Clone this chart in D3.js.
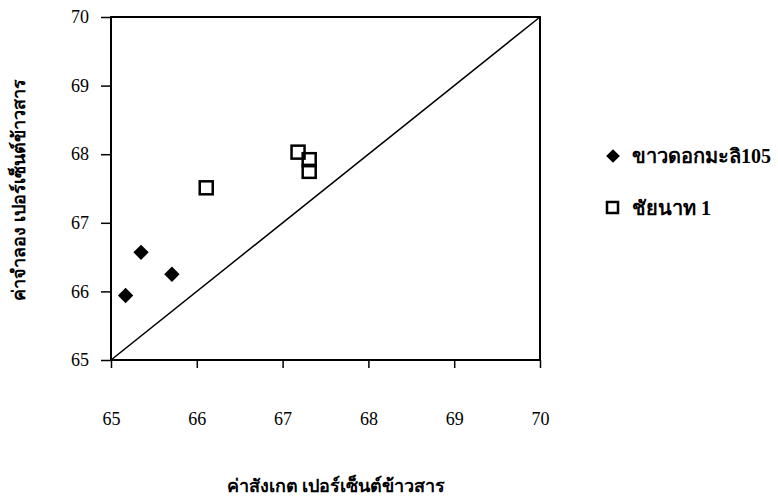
<!DOCTYPE html>
<html>
<head>
<meta charset="utf-8">
<script src="https://cdn.jsdelivr.net/npm/d3@7"></script>
<style>
  body { margin: 0; background: #fff; }
</style>
</head>
<body>
<div id="chart"></div>
<script>
var xTicks = [65, 66, 67, 68, 69, 70];
var yTicks = [65, 66, 67, 68, 69, 70];

var khaoX = [65.17, 65.35, 65.71];
var khaoY = [65.94, 66.57, 66.25];

var chainatX = [66.11, 67.18, 67.31, 67.31];
var chainatY = [67.51, 68.03, 67.92, 67.75];

var seriesNames = ["ขาวดอกมะลิ105", "ชัยนาท 1"];
var xTitle = "ค่าสังเกต เปอร์เซ็นต์ข้าวสาร";
var yTitle = "ค่าจำลอง เปอร์เซ็นต์ข้าวสาร";

var serif = "'Times New Roman', 'Liberation Serif', 'DejaVu Serif', serif";

var margin = {top: 17, right: 238, bottom: 143, left: 111},
    width = 778 - margin.left - margin.right,
    height = 503 - margin.top - margin.bottom;

var x = d3.scaleLinear().domain([65, 70]).range([0, width]);
var y = d3.scaleLinear().domain([65, 70]).range([height, 0]);

var svgRoot = d3.select("#chart").append("svg")
    .attr("width", 778)
    .attr("height", 503);

var svg = svgRoot.append("g")
    .attr("transform", "translate(" + margin.left + "," + margin.top + ")");

function styleAxis(g) {
    g.attr("font-family", null).attr("font-size", null);
    g.select(".domain").remove();
    g.selectAll("line").attr("stroke", "#000").attr("stroke-width", 1.5);
    g.selectAll("text")
        .attr("fill", "#000")
        .attr("font-family", serif)
        .attr("font-size", 18)
        .style("font-family", serif);
}

// x axis, labels sit well below the frame
svg.append("g")
    .attr("transform", "translate(0," + height + ")")
    .call(d3.axisBottom(x).tickValues(xTicks).tickSizeInner(8).tickSizeOuter(0).tickPadding(44).tickFormat(d3.format("d")))
    .call(styleAxis);

svg.append("g")
    .call(d3.axisLeft(y).tickValues(yTicks).tickSizeInner(10).tickSizeOuter(0).tickPadding(12).tickFormat(d3.format("d")))
    .call(styleAxis);

// frame
svg.append("rect")
    .attr("x", 0).attr("y", 0)
    .attr("width", width).attr("height", height)
    .attr("fill", "none")
    .attr("stroke", "#000")
    .attr("stroke-width", 2);

// 1:1 line
svg.append("line")
    .attr("x1", x(65)).attr("y1", y(65))
    .attr("x2", x(70)).attr("y2", y(70))
    .attr("stroke", "#000")
    .attr("stroke-width", 1.5);

var diamond = d3.symbol().type(d3.symbolDiamond2).size(150);

svg.selectAll(".khao")
    .data(khaoX.map(function (d, i) { return {x: d, y: khaoY[i]}; }))
    .enter().append("path")
    .attr("class", "khao")
    .attr("d", diamond)
    .attr("transform", function (d) { return "translate(" + x(d.x) + "," + y(d.y) + ")"; })
    .attr("fill", "#000");

svg.selectAll(".chainat")
    .data(chainatX.map(function (d, i) { return {x: d, y: chainatY[i]}; }))
    .enter().append("rect")
    .attr("class", "chainat")
    .attr("x", function (d) { return x(d.x) - 6.5; })
    .attr("y", function (d) { return y(d.y) - 6.5; })
    .attr("width", 13).attr("height", 13)
    .attr("fill", "none")
    .attr("stroke", "#000")
    .attr("stroke-width", 2.5);

// titles
svgRoot.append("text")
    .attr("x", 336).attr("y", 492)
    .attr("text-anchor", "middle")
    .style("font-family", "'Noto Sans', 'DejaVu Sans', sans-serif")
    .style("font-weight", "bold")
    .style("font-size", "18px")
    .text(xTitle);

svgRoot.append("text")
    .attr("transform", "translate(25,190) rotate(-90)")
    .attr("text-anchor", "middle")
    .style("font-family", "'Noto Sans', 'DejaVu Sans', sans-serif")
    .style("font-weight", "bold")
    .style("font-size", "18px")
    .text(yTitle);

// legend
var legend = svgRoot.append("g").attr("transform", "translate(613,156)");
legend.append("path")
    .attr("d", d3.symbol().type(d3.symbolDiamond2).size(120))
    .attr("fill", "#000");
legend.append("rect")
    .attr("x", -6).attr("y", 46).attr("width", 11).attr("height", 11)
    .attr("fill", "none").attr("stroke", "#000").attr("stroke-width", 2.5);
legend.selectAll(".lab")
    .data(seriesNames)
    .enter().append("text")
    .attr("class", "lab")
    .attr("x", 19)
    .attr("y", function (d, i) { return i * 52 + 7; })
    .style("font-family", serif)
    .style("font-weight", "bold")
    .style("font-size", "20px")
    .text(function (d) { return d; });
</script>
</body>
</html>
